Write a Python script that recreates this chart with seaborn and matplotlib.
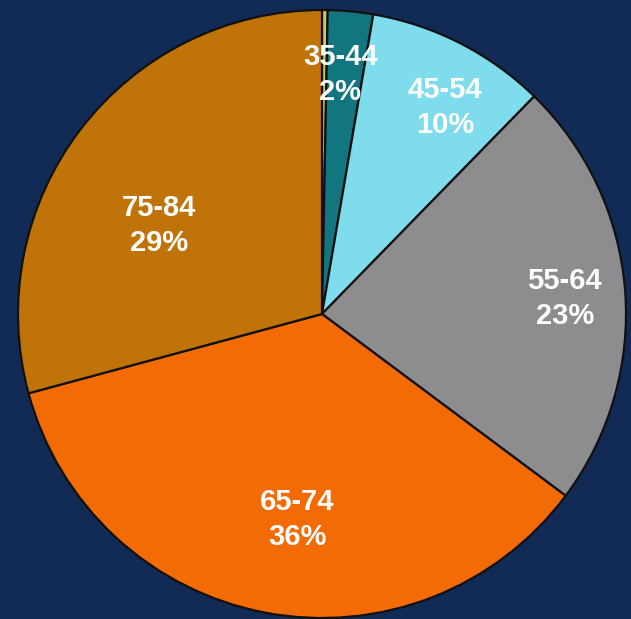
import numpy as np
import matplotlib
matplotlib.use("Agg")
import matplotlib.pyplot as plt
import seaborn as sns

# Age-group shares (percent), clockwise from 12 o'clock
age_groups = ["25-34", "35-44", "45-54", "55-64", "65-74", "75-84"]
shares = [0.3, 2.4, 9.6, 22.9, 35.6, 29.2]
show_label = [False, True, True, True, True, True]

slice_colors = ["#c3cc6c", "#127680", "#7fdcec", "#8d8d90", "#f36b04", "#c07308"]
background = "#112b56"

# label placement: fraction of radius and angular nudge (degrees, clockwise)
label_radius = [0.8, 0.79, 0.79, 0.80, 0.68, 0.61]
label_nudge = [0, -1.0, 3.8, 0.8, -4.0, -9.0]

sns.set_theme(style="white")
plt.rcParams["font.family"] = ["Liberation Sans", "DejaVu Sans"]

fig = plt.figure(figsize=(6.31, 6.19), dpi=100, facecolor=background)
ax = fig.add_axes([0, 0, 1, 1])
ax.set_facecolor(background)

palette = sns.color_palette(slice_colors)
wedges, _ = ax.pie(
    shares,
    colors=palette,
    startangle=90,
    counterclock=False,
    radius=1.0,
    wedgeprops=dict(edgecolor="#111111", linewidth=1.6),
)

total = sum(shares)
cum = np.cumsum([0] + shares)
for i, (grp, val) in enumerate(zip(age_groups, shares)):
    if not show_label[i]:
        continue
    mid_frac = (cum[i] + cum[i + 1]) / 2 / total
    ang = np.deg2rad(mid_frac * 360 + label_nudge[i])
    x = label_radius[i] * np.sin(ang)
    y = label_radius[i] * np.cos(ang)
    ax.text(x, y, f"{grp}\n{val:.0f}%", ha="center", va="center",
            color="white", fontsize=21, fontweight="bold", linespacing=1.3)

# frame so the pie sits at the visible position, edges slightly clipped
r_px = 304.0
cx, cy = 322.0, 314.0
W, H = 631.0, 619.0
ax.set_aspect("auto")
ax.set_xlim(-cx / r_px, (W - cx) / r_px)
ax.set_ylim(-(H - cy) / r_px, cy / r_px)
ax.axis("off")

fig.savefig("out.png", dpi=100, facecolor=background)
